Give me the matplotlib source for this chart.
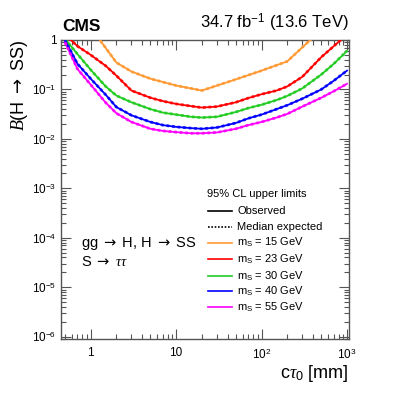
import matplotlib.pyplot as plt
import matplotlib.ticker as mticker
from matplotlib.lines import Line2D
import numpy as np

plt.rcParams['font.family'] = ['Liberation Sans', 'DejaVu Sans']
plt.rcParams['mathtext.fontset'] = 'custom'
plt.rcParams['mathtext.rm'] = 'Liberation Sans'
plt.rcParams['mathtext.it'] = 'Liberation Serif:italic'
plt.rcParams['mathtext.sf'] = 'DejaVu Sans'

# c*tau0 scan points [mm]
ctau = [0.5, 0.7, 1, 1.5, 2, 3, 5, 7, 10, 15, 20, 30, 50, 70, 100, 150, 200, 300, 500, 700, 1000]
ctau_15 = [1, 2, 3, 5, 10, 20, 50, 100, 200, 1000]

# observed limits on B(H->SS)
obs_15 = [1.8, 0.35, 0.23, 0.165, 0.12, 0.095, 0.16, 0.24, 0.37, 4.9]
obs_23 = [1.3, 0.75, 0.50, 0.30, 0.19, 0.095, 0.068, 0.058, 0.051, 0.046, 0.043, 0.045,
          0.055, 0.067, 0.080, 0.095, 0.115, 0.18, 0.45, 0.75, 1.3]
obs_30 = [1.05, 0.52, 0.25, 0.115, 0.075, 0.055, 0.040, 0.034, 0.031, 0.028, 0.027, 0.028,
          0.035, 0.042, 0.049, 0.061, 0.074, 0.105, 0.20, 0.33, 0.60]
obs_40 = [1.0, 0.33, 0.165, 0.078, 0.044, 0.030, 0.022, 0.019, 0.0175, 0.0165, 0.016, 0.017,
          0.021, 0.026, 0.031, 0.040, 0.048, 0.065, 0.10, 0.15, 0.24]
obs_55 = [0.9, 0.26, 0.125, 0.054, 0.033, 0.022, 0.016, 0.0145, 0.0137, 0.013, 0.013, 0.0135,
          0.016, 0.019, 0.022, 0.027, 0.032, 0.045, 0.068, 0.092, 0.13]

labels = ['15', '23', '30', '40', '55']
colors = ['#ff9933', '#ff0000', '#22cc22', '#0000ff', '#ff00ff']
series = [(ctau_15, obs_15), (ctau, obs_23), (ctau, obs_30), (ctau, obs_40), (ctau, obs_55)]

ARR = r'$\mathsf{\rightarrow}$'

fig = plt.figure(figsize=(4.07, 3.96), dpi=100)
ax = fig.add_axes([0.150, 0.144, 0.707, 0.755])

for (x, y), c in zip(series, colors):
    ax.plot(x, y, color=c, lw=1.3, zorder=3)
    # median expected sits on top of observed
    ax.plot(x, y, color=c, lw=2.0, ls=(0, (1, 1)), alpha=0.85, zorder=4)

ax.set_xscale('log')
ax.set_yscale('log')
ax.set_xlim(0.45, 1050)
ax.set_ylim(9e-7, 1)

ax.xaxis.set_major_locator(mticker.FixedLocator([1, 10, 100, 1000]))
ax.xaxis.set_major_formatter(mticker.FixedFormatter(['1', '10', '$10^{2}$', '$10^{3}$']))
ax.xaxis.set_minor_locator(mticker.LogLocator(base=10, subs=np.arange(2, 10), numticks=20))
ax.xaxis.set_minor_formatter(mticker.NullFormatter())
yt = [1e-6, 1e-5, 1e-4, 1e-3, 1e-2, 1e-1, 1]
ax.yaxis.set_major_locator(mticker.FixedLocator(yt))
ax.yaxis.set_major_formatter(mticker.FixedFormatter(
    ['$10^{-6}$', '$10^{-5}$', '$10^{-4}$', '$10^{-3}$', '$10^{-2}$', '$10^{-1}$', '1']))
ax.yaxis.set_minor_locator(mticker.LogLocator(base=10, subs=np.arange(2, 10), numticks=20))
ax.yaxis.set_minor_formatter(mticker.NullFormatter())

ax.tick_params(which='both', direction='in', top=True, right=True, labelsize=8.5, color='#555555')
ax.tick_params(which='major', length=7, width=0.8)
ax.tick_params(which='minor', length=3.5, width=0.8)
ax.tick_params(axis='x', pad=6)
for s in ax.spines.values():
    s.set_color('#555555')
    s.set_linewidth(1.0)

ax.set_xlabel(r'c$\mathit{\tau}_0$ [mm]', fontsize=13, loc='right', labelpad=1)
ax.set_ylabel(r'$\mathit{B}$(H ' + ARR + ' SS)', fontsize=13, loc='top', labelpad=1)

fig.text(0.152, 0.914, 'CMS', fontsize=12.5, fontweight='bold', ha='left', va='bottom')
fig.text(0.857, 0.914, r'34.7 fb$^{-1}$ (13.6 TeV)', fontsize=12, ha='right', va='bottom')

ax.text(0.068, 0.32, 'gg ' + ARR + ' H, H ' + ARR + ' SS', transform=ax.transAxes,
        fontsize=10.5, va='center')
ax.text(0.068, 0.259, 'S ' + ARR + r' $\mathit{\tau\tau}$', transform=ax.transAxes,
        fontsize=10.5, va='center')

# legend drawn by hand to keep ROOT-like row spacing
ax.text(0.506, 0.485, '95% CL upper limits', transform=ax.transAxes, fontsize=8, va='center')
rows_y = [0.429, 0.375, 0.322, 0.267, 0.211, 0.159, 0.107]
styles = [('black', '-'), ('black', (0, (1, 1)))] + [(c, '-') for c in colors]
names = ['Observed', 'Median expected'] + [r'm$_\mathrm{S}$ = ' + m + ' GeV' for m in labels]
for yy, (c, ls), nm in zip(rows_y, styles, names):
    ax.add_line(Line2D([0.510, 0.593], [yy, yy], transform=ax.transAxes, color=c, ls=ls,
                       lw=1.2, clip_on=False))
    ax.text(0.612, yy, nm, transform=ax.transAxes, fontsize=8, va='center')

fig.savefig('out.png', dpi=100)
